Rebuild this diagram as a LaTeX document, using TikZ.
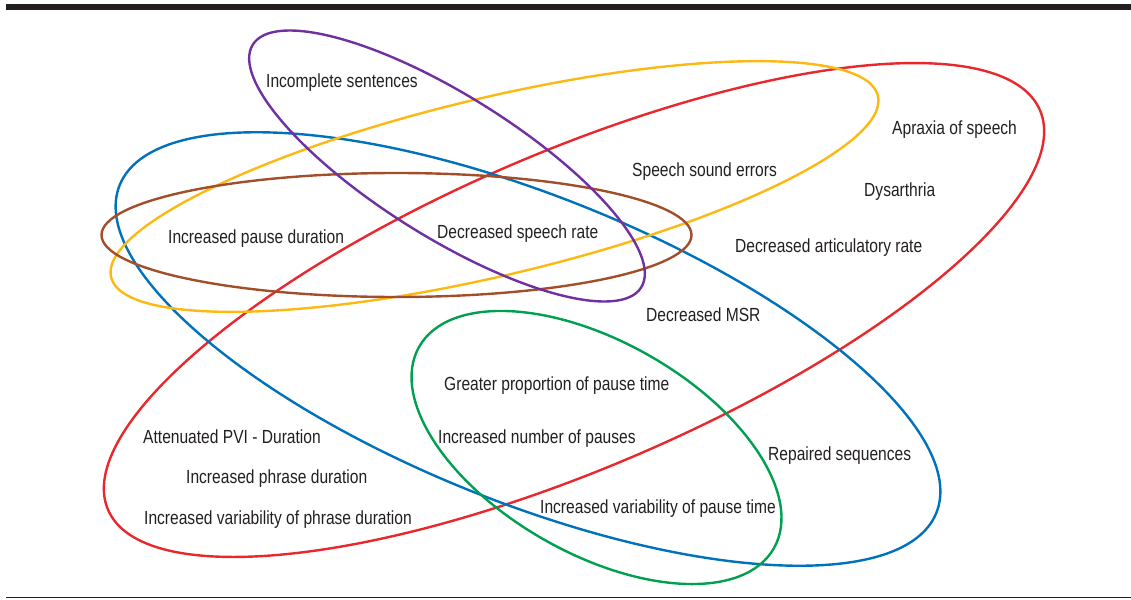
\documentclass[tikz,border=0pt]{standalone}
\usepackage{fontspec}
\setmainfont{Liberation Sans}[FakeStretch=0.82]
\definecolor{cpurple}{RGB}{112,48,160}
\definecolor{cyellow}{RGB}{253,185,19}
\definecolor{cred}{RGB}{232,40,45}
\definecolor{cblue}{RGB}{0,114,188}
\definecolor{cbrown}{RGB}{163,78,42}
\definecolor{cgreen}{RGB}{0,160,80}
\definecolor{ctext}{RGB}{35,31,32}
\begin{document}
\begin{tikzpicture}[x=1pt,y=-1pt,
  ring/.style={line width=2.4pt},
  lbl/.style={anchor=base west,inner sep=0pt,text=ctext,font=\fontsize{19}{22}\selectfont}]
\useasboundingbox (0,0) rectangle (1131,599);
% rules
\fill[ctext] (6,4) rectangle (1131,10);
\draw[ctext,line width=1pt] (6,597.5) -- (1131,597.5);
% ellipses
\draw[ring,cred]    [rotate around={23.2:(574,310)}]  (574,310) ellipse [x radius=507pt, y radius=158pt];
\draw[ring,cblue]   [rotate around={-21.85:(528,349)}] (528,349) ellipse [x radius=440pt, y radius=153pt];
\draw[ring,cyellow] [rotate around={13.3:(494.5,186.5)}] (494.5,186.5) ellipse [x radius=394pt, y radius=89pt];
\draw[ring,cbrown]  (396.5,235) ellipse [x radius=295pt, y radius=62pt];
\draw[ring,cpurple] [rotate around={-32:(447,166)}] (447,166) ellipse [x radius=229pt, y radius=71pt];
\draw[ring,cgreen]  [rotate around={-29.6:(596.5,447.5)}] (596.5,447.5) ellipse [x radius=204pt, y radius=106pt];
% labels
\node[lbl] (t1)  at (266,88)  {Incomplete sentences};
\node[lbl] (t2)  at (632,176) {Speech sound errors};
\node[lbl] (t3)  at (892,135) {Apraxia of speech};
\node[lbl] (t4)  at (864,196) {Dysarthria};
\node[lbl] (t5)  at (168,243) {Increased pause duration};
\node[lbl] (t6)  at (437,238) {Decreased speech rate};
\node[lbl] (t7)  at (735,252) {Decreased articulatory rate};
\node[lbl] (t8)  at (646,321) {Decreased MSR};
\node[lbl] (t9)  at (444,390) {Greater proportion of pause time};
\node[lbl] (t10) at (143,443) {Attenuated PVI - Duration};
\node[lbl] (t11) at (438,443) {Increased number of pauses};
\node[lbl] (t12) at (768,460) {Repaired sequences};
\node[lbl] (t13) at (186,483) {Increased phrase duration};
\node[lbl] (t14) at (144,524) {Increased variability of phrase duration};
\node[lbl] (t15) at (540,513) {Increased variability of pause time};
\end{tikzpicture}
\end{document}
